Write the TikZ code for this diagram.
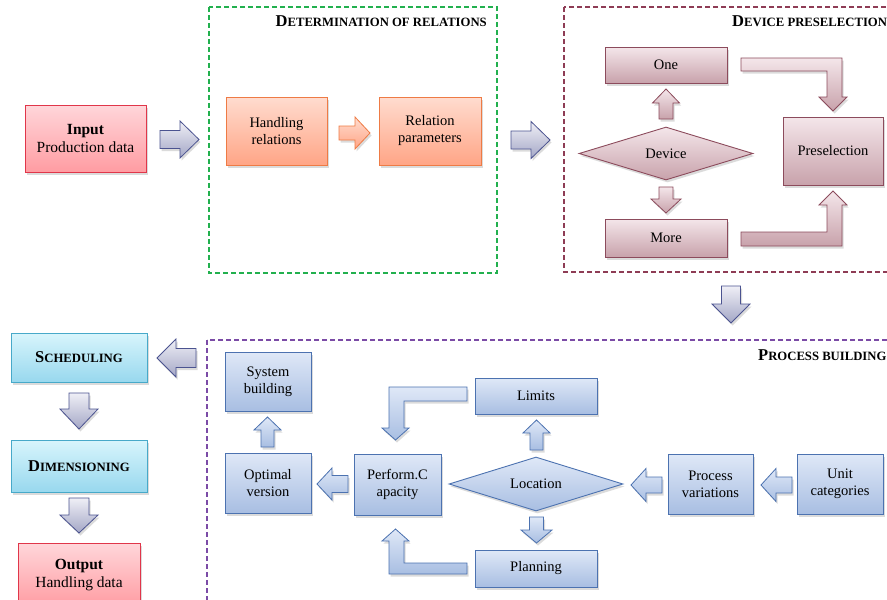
\documentclass[tikz,border=0pt]{standalone}
\usepackage{fontspec}
\setmainfont{Liberation Serif}
\usetikzlibrary{shapes.geometric,shadows}

\definecolor{inTop}{HTML}{FFD6DA}\definecolor{inBot}{HTML}{FF9CA2}\definecolor{inLine}{HTML}{E0364A}
\definecolor{orTop}{HTML}{FFDCCF}\definecolor{orBot}{HTML}{FFA586}\definecolor{orLine}{HTML}{EE7B45}
\definecolor{mrTop}{HTML}{F4E6EA}\definecolor{mrBot}{HTML}{C8A2AB}\definecolor{mrLine}{HTML}{8C4B5C}
\definecolor{blTop}{HTML}{DFE8F7}\definecolor{blBot}{HTML}{A8BEE2}\definecolor{blLine}{HTML}{4C72B0}
\definecolor{cyTop}{HTML}{D8F5FC}\definecolor{cyBot}{HTML}{98D8EE}\definecolor{cyLine}{HTML}{47A9C9}
\definecolor{gaTop}{HTML}{EFEFF6}\definecolor{gaBot}{HTML}{A4A7C6}\definecolor{gaLine}{HTML}{4B5390}
\definecolor{dGreen}{HTML}{22B04E}\definecolor{dMaroon}{HTML}{8E3C55}\definecolor{dPurple}{HTML}{7B4BA6}

\newcommand\bsc[2]{{\bfseries\fontsize{16.5}{18}\selectfont #1\fontsize{12.7}{14}\selectfont #2}}
\newcommand\bodyfont{\fontsize{14.5}{17}\selectfont}

% block arrows: style, start, tip, centre, shaft half, head half, head length
\newcommand\arR[7]{\path[#1] (#2,#4-#5) -- (#3-#7,#4-#5) -- (#3-#7,#4-#6) -- (#3,#4) -- (#3-#7,#4+#6) -- (#3-#7,#4+#5) -- (#2,#4+#5) -- cycle;}
\newcommand\arL[7]{\path[#1] (#2,#4-#5) -- (#3+#7,#4-#5) -- (#3+#7,#4-#6) -- (#3,#4) -- (#3+#7,#4+#6) -- (#3+#7,#4+#5) -- (#2,#4+#5) -- cycle;}
\newcommand\arU[7]{\path[#1] (#4-#5,#2) -- (#4-#5,#3+#7) -- (#4-#6,#3+#7) -- (#4,#3) -- (#4+#6,#3+#7) -- (#4+#5,#3+#7) -- (#4+#5,#2) -- cycle;}
\newcommand\arD[7]{\path[#1] (#4-#5,#2) -- (#4-#5,#3-#7) -- (#4-#6,#3-#7) -- (#4,#3) -- (#4+#6,#3-#7) -- (#4+#5,#3-#7) -- (#4+#5,#2) -- cycle;}

\tikzset{
  shad/.style={drop shadow={shadow xshift=1.5pt,shadow yshift=-2.5pt,opacity=0.28}},
  box/.style={draw,line width=0.9pt,align=center,inner sep=0pt,font=\bodyfont,shad},
  inbox/.style={top color=inTop,bottom color=inBot,draw=inLine},
  orbox/.style={top color=orTop,bottom color=orBot,draw=orLine},
  mrbox/.style={top color=mrTop,bottom color=mrBot,draw=mrLine},
  blbox/.style={top color=blTop,bottom color=blBot,draw=blLine},
  cybox/.style={top color=cyTop,bottom color=cyBot,draw=cyLine},
  arrowbase/.style={line width=0.8pt,line join=miter,shad},
  garrow/.style={arrowbase,draw=gaLine,top color=gaTop,bottom color=gaBot},
  oarrow/.style={arrowbase,draw=orLine,top color=orTop,bottom color=orBot},
  marrow/.style={arrowbase,draw=mrLine,top color=mrTop,bottom color=mrBot},
  barrow/.style={arrowbase,draw=blLine,top color=blTop,bottom color=blBot},
  frame/.style={line width=1.2pt,dash pattern=on 5pt off 3pt},
  title/.style={inner sep=0pt}
}

\begin{document}
\begin{tikzpicture}[x=1pt,y=-1pt]
\useasboundingbox (0,0) rectangle (887,600);
\fill[white] (0,0) rectangle (887,600);

% containers
\draw[frame,draw=dGreen] (209,7) rectangle (497,273);
\draw[frame,draw=dMaroon] (564,7) rectangle (900,272);
\draw[frame,draw=dPurple] (207,340) rectangle (900,615);

\node[title,anchor=base east] (t1) at (487,26) {\bsc{D}{ETERMINATION OF RELATIONS}};
\node[title,anchor=base west] (t2) at (732,26.5) {\bsc{D}{EVICE PRESELECTION}};
\node[title,anchor=base west] (t3) at (758,360) {\bsc{P}{ROCESS BUILDING}};

% top row
\node[box,inbox,minimum width=121pt,minimum height=67pt,font=\fontsize{15.5}{18.5}\selectfont] (input) at (85.5,138.5) {\textbf{Input}\\Production data};
\node[box,orbox,minimum width=101pt,minimum height=68pt] (handling) at (276.5,131) {Handling\\relations};
\node[box,orbox,minimum width=102pt,minimum height=68pt] (relpar) at (430,131) {Relation\\parameters};

% device preselection
\node[box,mrbox,minimum width=122pt,minimum height=36pt] (one) at (666,65) {One};
\node[box,mrbox,minimum width=122pt,minimum height=38pt] (more) at (666,238) {More};
\node[box,mrbox,minimum width=100pt,minimum height=68pt] (presel) at (833,151) {Preselection};
\node[box,mrbox,diamond,aspect=3.3,minimum width=174pt,minimum height=53pt] (device) at (666,153.5) {Device};

% left column
\node[box,cybox,minimum width=136pt,minimum height=49pt] (sched) at (79,357.5) {\bsc{S}{CHEDULING}};
\node[box,cybox,minimum width=136pt,minimum height=52pt] (dimen) at (79,466) {\bsc{D}{IMENSIONING}};
\node[box,inbox,minimum width=122pt,minimum height=64pt,font=\fontsize{15.5}{18.5}\selectfont] (output) at (79,575) {\textbf{Output}\\Handling data};

% process building
\node[box,blbox,minimum width=86pt,minimum height=59pt] (sysb) at (268,381.5) {System\\building};
\node[box,blbox,minimum width=86pt,minimum height=60pt] (optv) at (268,483) {Optimal\\version};
\node[box,blbox,minimum width=87pt,minimum height=61pt] (perf) at (397.5,484.5) {Perform.C\\apacity};
\node[box,blbox,diamond,aspect=3.3,minimum width=174pt,minimum height=54pt] (loc) at (536,484) {Location};
\node[box,blbox,minimum width=122pt,minimum height=36pt] (limits) at (536,396) {Limits};
\node[box,blbox,minimum width=122pt,minimum height=37pt] (plan) at (536,568.5) {Planning};
\node[box,blbox,minimum width=85pt,minimum height=60pt] (procvar) at (710.5,484) {Process\\variations};
\node[box,blbox,minimum width=86pt,minimum height=60pt] (unitcat) at (840,484) {Unit\\categories};

% arrows
\arR{garrow}{160}{199}{139.5}{9}{18.5}{19}
\arR{oarrow}{339}{370}{133}{7}{16}{15}
\arR{garrow}{511}{550}{140}{9}{18.5}{19}
\arU{marrow}{119}{89}{666}{7}{13.5}{14}
\arD{marrow}{187}{213}{666}{7}{15}{14}
\path[marrow] (741,58) -- (842,58) -- (842,97) -- (847,97) -- (833,111) -- (819,97) -- (827,97) -- (827,71) -- (741,71) -- cycle;
\path[marrow] (741,246) -- (842,246) -- (842,205) -- (847,205) -- (833,191) -- (819,205) -- (827,205) -- (827,232) -- (741,232) -- cycle;
\arD{garrow}{286}{323}{731}{9.5}{19}{19}
\arL{garrow}{196}{157}{358}{9.5}{19}{19}
\arD{garrow}{393}{429}{79}{10}{19}{20}
\arD{garrow}{498}{533}{79}{10}{19}{18}
\arU{barrow}{447}{417}{267.5}{6.5}{13.5}{13}
\arL{barrow}{348}{317}{484}{8.5}{16}{15}
\arU{barrow}{450}{420}{536.5}{6.5}{13.5}{13}
\arD{barrow}{517}{543}{536.5}{7}{15.5}{13}
\arL{barrow}{662}{631}{485}{8}{16.5}{15}
\arL{barrow}{792}{761}{485}{8}{16.5}{15}
\path[barrow] (467,387) -- (389,387) -- (389,428) -- (382,428) -- (395.5,440) -- (409,428) -- (404,428) -- (404,401) -- (467,401) -- cycle;
\path[barrow] (467,563) -- (404,563) -- (404,541) -- (409,541) -- (395.5,529) -- (382,541) -- (389,541) -- (389,574) -- (467,574) -- cycle;
\end{tikzpicture}
\end{document}
